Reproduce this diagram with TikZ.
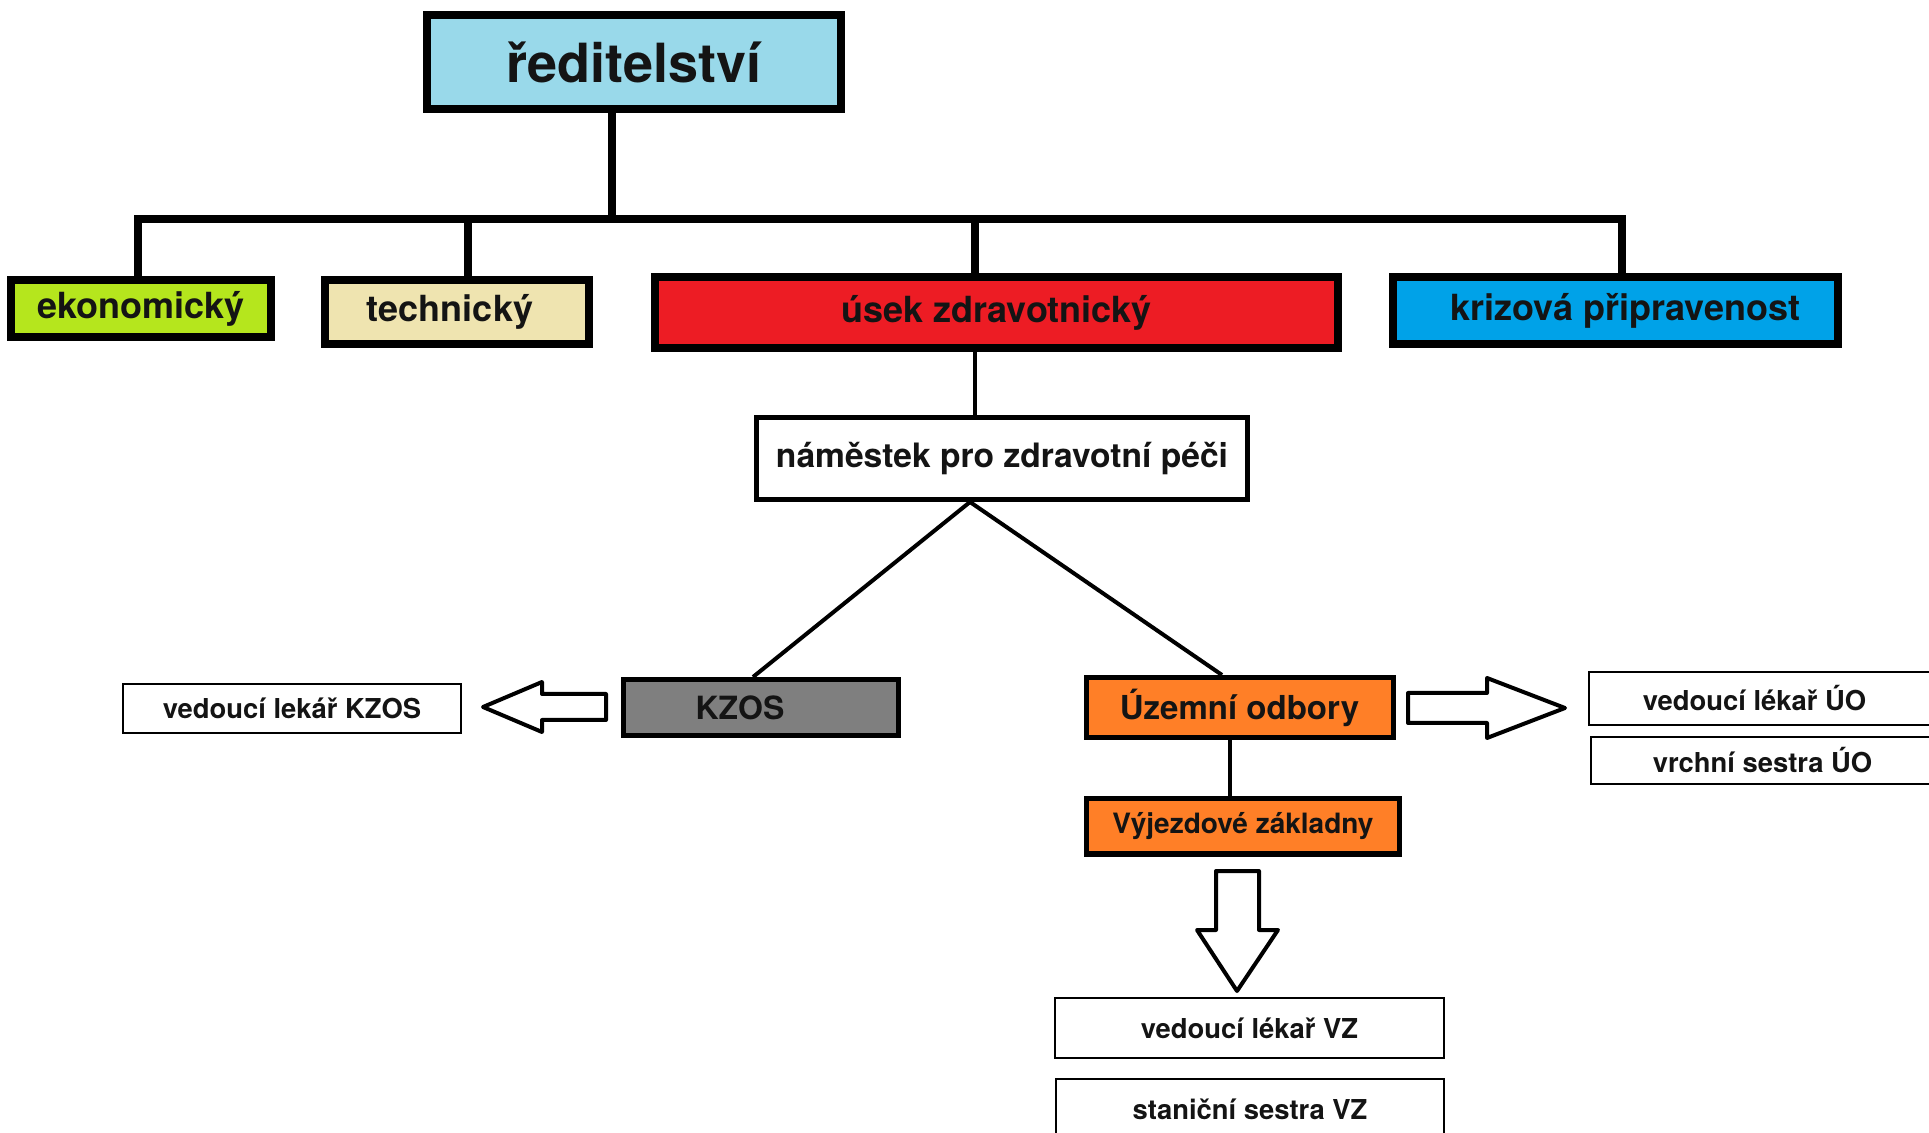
\documentclass[tikz,border=0pt]{standalone}
\usepackage{fontspec}
\setmainfont{TeX Gyre Heros}
\definecolor{cdir}{HTML}{99D9EA}
\definecolor{ceko}{HTML}{B5E61D}
\definecolor{ctech}{HTML}{EFE4B0}
\definecolor{cred}{HTML}{ED1C24}
\definecolor{cblue}{HTML}{00A2E8}
\definecolor{cgray}{HTML}{7F7F7F}
\definecolor{corange}{HTML}{FF7F27}
\definecolor{ctext}{HTML}{141414}
\begin{document}
\begin{tikzpicture}[x=0.5pt,y=-0.5pt,
  boxbase/.style={draw=black, rectangle, inner sep=0pt, text=ctext, font=\bfseries},
  fatbox/.style={boxbase, line width=4pt},
  midbox/.style={boxbase, line width=2.5pt},
  slimbox/.style={boxbase, line width=1pt, fill=white},
  fatline/.style={draw=black, line width=4pt, line join=miter},
  thinline/.style={draw=black, line width=2pt, line join=miter},
  blockarrow/.style={draw=black, fill=white, line width=2pt, line join=round},
  bigfont/.style={font=\bfseries\fontsize{27}{30}\selectfont},
  midfont/.style={font=\bfseries\fontsize{18}{20}\selectfont},
  smallfont/.style={font=\bfseries\fontsize{13.7}{15}\selectfont}]
\useasboundingbox (0,0) rectangle (1929,1133);
\fill[white] (0,0) rectangle (1929,1133);

% junction coordinates
\coordinate (j0) at (612,219);
\coordinate (d1) at (138,219);
\coordinate (d2) at (468,219);
\coordinate (d3) at (975,219);
\coordinate (d4) at (1622,219);
\coordinate (ap) at (970,502);
\coordinate (kz) at (753,0);
\coordinate (uz) at (1222,0);
\coordinate (vz) at (1230,0);

% nodes
\node[fatbox, fill=cdir, minimum width=207pt, minimum height=47pt, bigfont] (dir) at (634,62) {ředitelství};
\node[fatbox, fill=ceko, minimum width=130pt, minimum height=28.5pt, midfont] (eko) at (141,308.5) {ekonomický};
\node[fatbox, fill=ctech, minimum width=132pt, minimum height=32pt, midfont] (tech) at (457,312) {technický\kern7pt};
\node[fatbox, fill=cred, minimum width=341.5pt, minimum height=35.5pt, midfont] (usek) at (996.5,312.5) {úsek zdravotnický};
\node[fatbox, fill=cblue, minimum width=222.5pt, minimum height=33.5pt, midfont] (kriz) at (1615.5,310.5) {\kern10pt krizová připravenost};
\node[midbox, fill=white, minimum width=245.5pt, minimum height=41pt, font=\bfseries\fontsize{16.8}{19}\selectfont] (nam) at (1002,458.5) {náměstek pro zdravotní péči};
\node[midbox, fill=cgray, minimum width=137.5pt, minimum height=28pt, font=\bfseries\fontsize{16}{18}\selectfont] (kzos) at (761,707.5) {KZOS\kern21pt};
\node[midbox, fill=corange, minimum width=153.5pt, minimum height=30pt, font=\bfseries\fontsize{16.5}{18}\selectfont] (uzem) at (1239.5,707.5) {Územní odbory};
\node[midbox, fill=corange, minimum width=156.5pt, minimum height=27.5pt, font=\bfseries\fontsize{14}{16}\selectfont] (vyj) at (1243,826.5) {Výjezdové základny};
\node[slimbox, minimum width=169pt, minimum height=24.5pt, smallfont] (vlk) at (292,708.5) {vedoucí lekář KZOS};
\node[slimbox, minimum width=172.5pt, minimum height=26.5pt, smallfont] (vlu) at (1761.5,698.5) {vedoucí lékař ÚO\kern7pt};
\node[slimbox, minimum width=171.5pt, minimum height=23.5pt, smallfont] (vsu) at (1762.5,760.5) {vrchní sestra ÚO};
\node[slimbox, minimum width=194.5pt, minimum height=30pt, smallfont] (vlv) at (1249.5,1028) {vedoucí lékař VZ};
\node[slimbox, minimum width=194pt, minimum height=30pt, smallfont] (ssv) at (1250,1109) {staniční sestra VZ};

% tree connectors
\draw[fatline] (dir.south -| j0) -- (j0);
\draw[fatline] (eko.north -| d1) -- (d1) -- (d4) -- (kriz.north -| d4);
\draw[fatline] (tech.north -| d2) -- (d2);
\draw[fatline] (usek.north -| d3) -- (d3);
\draw[thinline] (usek.south -| d3) -- (nam.north -| d3);
\draw[thinline] (kzos.north -| kz) -- (ap) -- (uzem.north -| uz);
\draw[thinline] (uzem.south -| vz) -- (vyj.north -| vz);

% block arrows
\draw[blockarrow] (606,694) -- (542,694) -- (542,682) -- (483,707) -- (542,732) -- (542,720) -- (606,720) -- cycle;
\draw[blockarrow] (1408,693) -- (1487,693) -- (1487,678) -- (1565,708) -- (1487,738) -- (1487,723) -- (1408,723) -- cycle;
\draw[blockarrow] (1216,871) -- (1259,871) -- (1259,930) -- (1278,930) -- (1237,991) -- (1197,930) -- (1216,930) -- cycle;
\end{tikzpicture}
\end{document}
